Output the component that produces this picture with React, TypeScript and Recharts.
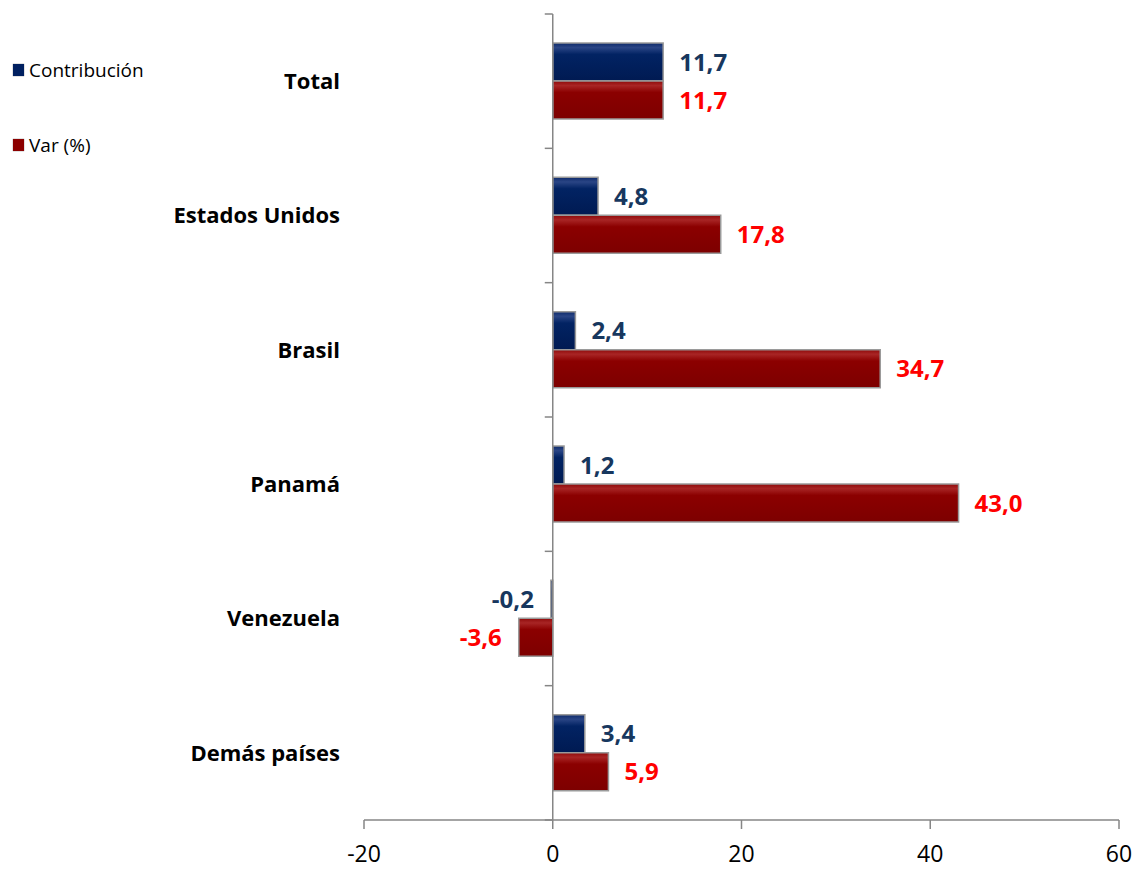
import React from 'react';
import { BarChart, Bar, XAxis, YAxis, ReferenceLine, LabelList, Legend } from 'recharts';

const categories = ['Total', 'Estados Unidos', 'Brasil', 'Panamá', 'Venezuela', 'Demás países'];
const contribucion = [11.7, 4.8, 2.4, 1.2, -0.2, 3.4];
const variacion = [11.7, 17.8, 34.7, 43.0, -3.6, 5.9];
const xTicks = [-20, 0, 20, 40, 60];
const seriesNames = { contrib: 'Contribución', var: 'Var (%)' };

const data = categories.map((c, i) => ({ name: c, contrib: contribucion[i], var: variacion[i] }));

const FONT = '"Open Sans", "Noto Sans", sans-serif';
const BLUE = '#002060';
const RED = '#8B0000';
const AXIS = '#868686';

const fmt = (v: number) => v.toFixed(1).replace('.', ',');

const makeLabel = (color: string) => (props: any) => {
  const { x, y, width, height, value } = props;
  const v = Number(value);
  const end = x + width;
  const neg = v < 0;
  const left = Math.min(x, end);
  const right = Math.max(x, end);
  const tx = neg ? left - 17 : right + 16;
  return (
    <text
      x={tx}
      y={y + height / 2}
      dy="0.36em"
      textAnchor={neg ? 'end' : 'start'}
      fill={color}
      fontFamily={FONT}
      fontWeight={700}
      fontSize={24}
    >
      {fmt(v)}
    </text>
  );
};

const ZeroLine = (props: any) => {
  const { x1, y1, x2, y2 } = props;
  const n = categories.length;
  const top = Math.min(y1, y2);
  const bottom = Math.max(y1, y2);
  const step = (bottom - top) / n;
  const ticks = [];
  for (let i = 0; i <= n; i++) {
    const yy = top + step * i;
    ticks.push(<line key={i} x1={x1 - 8} x2={x1} y1={yy} y2={yy} stroke={AXIS} strokeWidth={1.5} />);
  }
  return (
    <g>
      <line x1={x1} x2={x2} y1={y1} y2={y2} stroke={AXIS} strokeWidth={1.5} />
      {ticks}
    </g>
  );
};

const LegendContent = () => (
  <div style={{ fontFamily: FONT, fontSize: 19, color: '#000', lineHeight: '24px' }}>
    <div style={{ display: 'flex', alignItems: 'center', height: 24 }}>
      <span style={{ display: 'inline-block', width: 11, height: 12, background: BLUE, marginRight: 5, boxShadow: '0 0 1px #555' }} />
      {seriesNames.contrib}
    </div>
    <div style={{ display: 'flex', alignItems: 'center', height: 24, marginTop: 51 }}>
      <span style={{ display: 'inline-block', width: 11, height: 12, background: RED, marginRight: 5, boxShadow: '0 0 1px #555' }} />
      {seriesNames.var}
    </div>
  </div>
);

const CatTick = (props: any) => {
  const { x, y, payload } = props;
  return (
    <text x={x} y={y} dy="0.36em" textAnchor="end" fontFamily={FONT} fontWeight={700} fontSize={22} fill="#000">
      {payload.value}
    </text>
  );
};

const NumTick = (props: any) => {
  const { x, y, payload } = props;
  return (
    <text x={x} y={y} dy="0.71em" textAnchor="middle" fontFamily={FONT} fontSize={23} fill="#000">
      {payload.value}
    </text>
  );
};

export default function App() {
  return (
    <div style={{ position: 'absolute', left: 0, top: 0, width: 1137, height: 869, background: '#fff' }}>
      <BarChart
        width={1137}
        height={869}
        data={data}
        layout="vertical"
        margin={{ top: 14, right: 18, bottom: 0, left: 0 }}
        barGap={0}
        barSize={38}
      >
        <defs>
          <linearGradient id="gBlue" x1="0" y1="0" x2="0" y2="1">
            <stop offset="0%" stopColor="#0d2a6a" />
            <stop offset="12%" stopColor="#2a4585" />
            <stop offset="30%" stopColor="#022363" />
            <stop offset="100%" stopColor="#001a52" />
          </linearGradient>
          <linearGradient id="gRed" x1="0" y1="0" x2="0" y2="1">
            <stop offset="0%" stopColor="#8f0a0a" />
            <stop offset="12%" stopColor="#a82525" />
            <stop offset="30%" stopColor="#8b0000" />
            <stop offset="100%" stopColor="#7d0000" />
          </linearGradient>
        </defs>
        <XAxis
          type="number"
          domain={[-20, 60]}
          ticks={xTicks}
          allowDataOverflow
          height={49}
          stroke={AXIS}
          axisLine={{ stroke: AXIS, strokeWidth: 1.5 }}
          tickLine={{ stroke: AXIS, strokeWidth: 1.5 }}
          tickSize={9}
          tickMargin={17}
          tick={<NumTick />}
        />
        <YAxis
          type="category"
          dataKey="name"
          width={364}
          axisLine={false}
          tickLine={false}
          tickSize={6}
          tickMargin={18}
          tick={<CatTick />}
        />
        <Legend
          content={<LegendContent />}
          layout="vertical"
          verticalAlign="middle"
          align="center"
          wrapperStyle={{ position: 'absolute', left: 13, top: 58, width: 200, height: 110 }}
        />
        <Bar dataKey="contrib" name={seriesNames.contrib} fill="url(#gBlue)" stroke="#9a9a9a" strokeWidth={1.5} isAnimationActive={false}>
          <LabelList dataKey="contrib" content={makeLabel('#17375E')} />
        </Bar>
        <Bar dataKey="var" name={seriesNames.var} fill="url(#gRed)" stroke="#9a9a9a" strokeWidth={1.5} isAnimationActive={false}>
          <LabelList dataKey="var" content={makeLabel('#FF0000')} />
        </Bar>
        <ReferenceLine x={0} shape={<ZeroLine />} />
      </BarChart>
    </div>
  );
}
